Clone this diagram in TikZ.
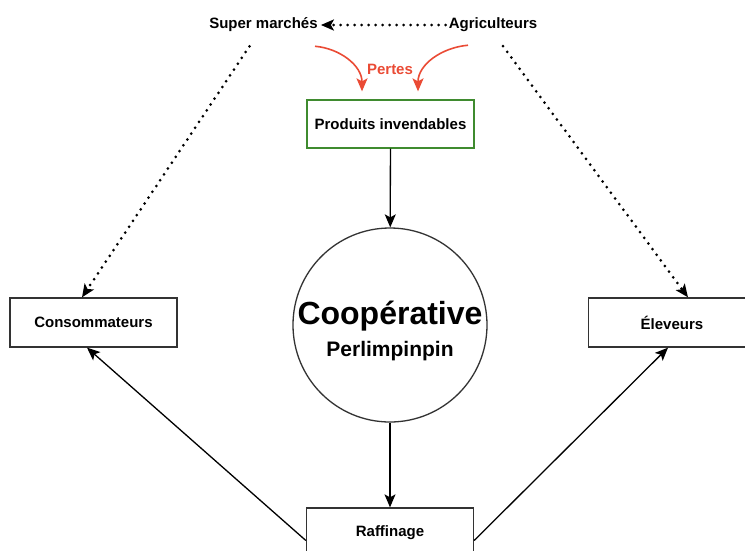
\documentclass[tikz,border=0pt]{standalone}
\usepackage{fontspec}
\setmainfont{Liberation Sans}
\usetikzlibrary{arrows.meta}
\definecolor{pertesred}{HTML}{EA4B35}
\definecolor{invgreen}{HTML}{3F8B2F}
\begin{document}
\begin{tikzpicture}[x=1pt,y=-1pt,
    txt/.style={inner sep=3pt,font=\fontsize{15}{18}\selectfont\bfseries},
    box/.style={txt,draw=black!80,line width=1.3pt,minimum width=167pt,minimum height=49pt},
    flow/.style={-{Stealth[length=13pt,width=11pt,inset=3pt]},line width=1.3pt},
    dots/.style={flow,line width=3pt,line cap=round,dash pattern=on 0pt off 7pt},
    loss/.style={flow,draw=pertesred,line width=1.6pt}]
  \useasboundingbox (0,0) rectangle (745,550);
  % haut
  \node[txt] (sm) at (263.5,25) {Super marchés};
  \node[txt] (agri) at (493,25) {Agriculteurs};
  \node[txt,text=pertesred] (pertes) at (390,69) {Pertes};
  \node[box,draw=invgreen,minimum height=48pt] (prod) at (390.5,124) {Produits invendables};
  % centre
  \node[circle,draw=black!80,line width=1.3pt,minimum size=194pt] (coop) at (390,325) {};
  \node[font=\fontsize{32}{36}\selectfont\bfseries] (coopname) at (390,316) {Coopérative};
  \node[font=\fontsize{21}{24}\selectfont\bfseries] (coopsub) at (390,351) {Perlimpinpin};
  % cotes et bas
  \node[box] (cons) at (93.5,322.5) {Consommateurs};
  \node[box] (elev) at (672,322.5) {Éleveurs};
  \node[box] (raf) at (390,532.5) {Raffinage};

  \draw[dots] (agri.west) -- (sm.east);
  \draw[dots] ([xshift=-14pt,yshift=-11pt]sm.south) -- ([xshift=-11.5pt]cons.north);
  \draw[dots] ([xshift=10pt,yshift=-11pt]agri.south) -- ([xshift=16pt]elev.north);
  \draw[loss] ([xshift=51.5pt,yshift=-11pt]sm.south) to[out=-5,in=90] ([xshift=-28.5pt,yshift=8pt]prod.north);
  \draw[loss] ([xshift=-25pt,yshift=-10pt]agri.south) to[out=185,in=90] ([xshift=27.5pt,yshift=8pt]prod.north);
  \draw[flow] (prod) -- (coop);
  \draw[flow] (coop) -- (raf);
  \draw[flow] ([yshift=-8pt]raf.west) -- ([xshift=-6.5pt]cons.south);
  \draw[flow] ([yshift=-8pt]raf.east) -- ([xshift=-4pt]elev.south);
\end{tikzpicture}
\end{document}
